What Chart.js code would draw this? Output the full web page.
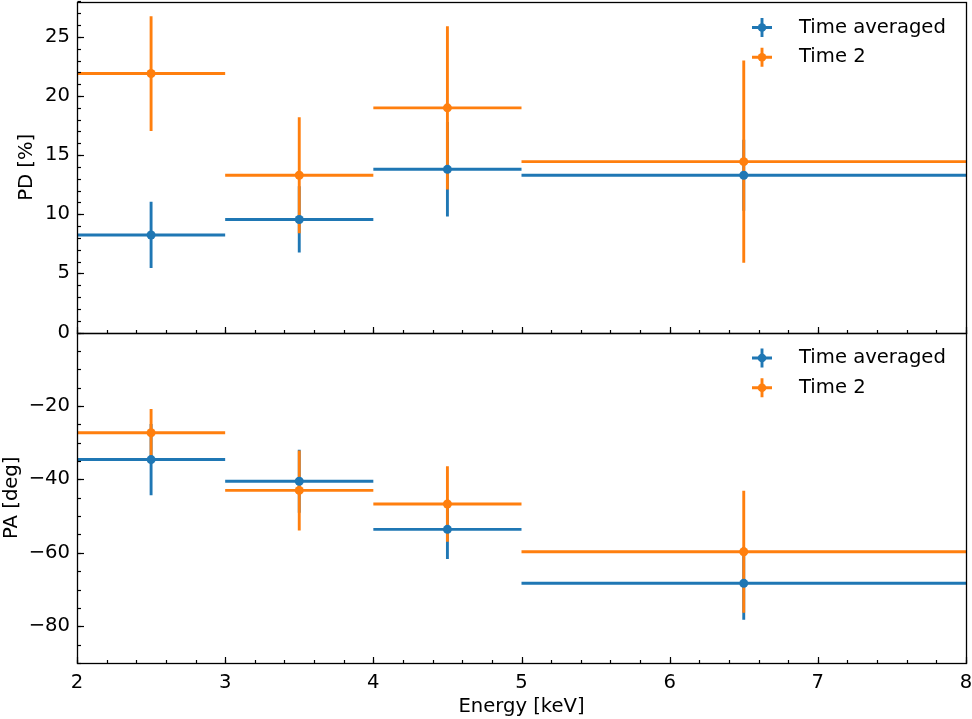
<!DOCTYPE html>
<html>
<head>
<meta charset="utf-8">
<script src="https://cdn.jsdelivr.net/npm/chart.js@4.4.0/dist/chart.umd.min.js"></script>
<style>
  html, body { margin: 0; padding: 0; background: #fff; }
</style>
</head>
<body>
<canvas id="grafico" width="972" height="719"></canvas>
<script>
// Bines de energía (keV)
const energia = [2.5, 3.5, 4.5, 6.5];
const energiaMin = [2, 3, 4, 5];
const energiaMax = [3, 4, 5, 8];

// Grado de polarización PD [%]
const pdPromedio = [8.25, 9.56, 13.8, 13.3];
const pdPromedioErr = [2.8, 2.8, 4.0, 3.0];
const pdTiempo2 = [21.9, 13.3, 19.0, 14.45];
const pdTiempo2Err = [4.85, 4.9, 6.9, 8.55];

// Ángulo de polarización PA [deg]
const paPromedio = [-34.6, -40.5, -53.6, -68.3];
const paPromedioErr = [9.7, 8.6, 8.1, 9.9];
const paTiempo2 = [-27.3, -43.0, -46.7, -59.7];
const paTiempo2Err = [6.5, 10.9, 10.3, 16.6];

const etiquetas = ['Time averaged', 'Time 2'];
const azul = '#1f77b4';
const naranja = '#ff7f0e';
const fuente = 'DejaVu Sans';
const tamFuente = 19.6;

function puntos(xs, ys) {
    return xs.map((x, i) => ({ x: x, y: ys[i] }));
}

// Barras de error (x: ancho del bin, y: error simétrico)
function dibujarErrores(chart, ys, errs, color, idEje) {
    const ctx = chart.ctx;
    const ex = chart.scales.x;
    const ey = chart.scales[idEje];
    ctx.save();
    ctx.beginPath();
    ctx.rect(ex.left, ey.top, ex.right - ex.left, ey.bottom - ey.top);
    ctx.clip();
    ctx.strokeStyle = color;
    ctx.lineWidth = 2.9;
    ys.forEach((v, i) => {
        const yp = ey.getPixelForValue(v);
        const xp = ex.getPixelForValue(energia[i]);
        ctx.beginPath();
        ctx.moveTo(ex.getPixelForValue(energiaMin[i]), yp);
        ctx.lineTo(ex.getPixelForValue(energiaMax[i]), yp);
        ctx.moveTo(xp, ey.getPixelForValue(v + errs[i]));
        ctx.lineTo(xp, ey.getPixelForValue(v - errs[i]));
        ctx.stroke();
    });
    ctx.restore();
}

// Marcas hacia dentro en un eje
function marcasY(ctx, eje, x0, desde, hasta, paso, largo) {
    const n = Math.round((hasta - desde) / paso);
    for (let k = 0; k <= n; k++) {
        const v = desde + k * paso;
        const y = Math.round(eje.getPixelForValue(v)) + 0.5;
        if (y < eje.top - 0.5 || y > eje.bottom + 0.5) continue;
        ctx.beginPath();
        ctx.moveTo(x0, y);
        ctx.lineTo(x0 + largo, y);
        ctx.stroke();
    }
}

function marcasX(ctx, eje, y0, desde, hasta, paso, largo) {
    const n = Math.round((hasta - desde) / paso);
    for (let k = 0; k <= n; k++) {
        const x = Math.round(eje.getPixelForValue(desde + k * paso)) + 0.5;
        ctx.beginPath();
        ctx.moveTo(x, y0);
        ctx.lineTo(x, y0 - largo);
        ctx.stroke();
    }
}

function leyenda(ctx, ejeX, ejeY) {
    const xm = 762;
    const xt = 799;
    [azul, naranja].forEach((color, i) => {
        const y = ejeY.top + 25.5 + i * 29.8;
        ctx.strokeStyle = color;
        ctx.fillStyle = color;
        ctx.lineWidth = 2.9;
        ctx.beginPath();
        ctx.moveTo(xm - 10, y);
        ctx.lineTo(xm + 10, y);
        ctx.moveTo(xm, y - 9.5);
        ctx.lineTo(xm, y + 9.5);
        ctx.stroke();
        ctx.beginPath();
        ctx.arc(xm, y, 4.3, 0, Math.PI * 2);
        ctx.fill();
        ctx.fillStyle = '#000';
        ctx.font = tamFuente + 'px "' + fuente + '"';
        ctx.textAlign = 'left';
        ctx.textBaseline = 'middle';
        ctx.fillText(etiquetas[i], xt, y);
    });
}

const pluginPaneles = {
    id: 'paneles',
    beforeDatasetsDraw(chart) {
        dibujarErrores(chart, pdPromedio, pdPromedioErr, azul, 'yPD');
        dibujarErrores(chart, pdTiempo2, pdTiempo2Err, naranja, 'yPD');
        dibujarErrores(chart, paPromedio, paPromedioErr, azul, 'yPA');
        dibujarErrores(chart, paTiempo2, paTiempo2Err, naranja, 'yPA');
    },
    afterDraw(chart) {
        const ctx = chart.ctx;
        const ex = chart.scales.x;
        const paneles = [
            { eje: chart.scales.yPD, min: 0, max: 27.95, mayor: 5, menor: 1 },
            { eje: chart.scales.yPA, min: -90, max: 0, mayor: 20, menor: 5 }
        ];
        ctx.save();
        ctx.strokeStyle = '#000';
        paneles.forEach(p => {
            ctx.lineWidth = 1.2;
            const x0 = Math.round(ex.left) + 0.5;
            marcasY(ctx, p.eje, x0, Math.ceil(p.min / p.menor) * p.menor, p.max, p.menor, 3.5);
            marcasY(ctx, p.eje, x0, Math.ceil(p.min / p.mayor) * p.mayor, p.max, p.mayor, 6.5);
            const yb = Math.round(p.eje.bottom) + 0.5;
            marcasX(ctx, ex, yb, 2, 8, 0.2, 3.5);
            marcasX(ctx, ex, yb, 2, 8, 1, 6.5);
            ctx.lineWidth = 1.3;
            ctx.strokeRect(x0, Math.round(p.eje.top) + 0.5, Math.round(ex.right) - Math.round(ex.left), Math.round(p.eje.bottom) - Math.round(p.eje.top));
        });
        ctx.restore();
        ctx.save();
        leyenda(ctx, ex, chart.scales.yPD);
        leyenda(ctx, ex, chart.scales.yPA);
        ctx.restore();
    }
};

const fuenteEjes = { family: fuente, size: tamFuente };

// Sin relleno automático: el área del gráfico queda fija
function ajustarY(s) {
    s.width = 77;
    s.paddingTop = 0;
    s.paddingBottom = 0;
}

const ctx = document.getElementById('grafico').getContext('2d');

const chart = new Chart(ctx, {
    type: 'scatter',
    data: {
        datasets: [
            { label: etiquetas[0], data: puntos(energia, pdPromedio), yAxisID: 'yPD', backgroundColor: azul, borderWidth: 0, pointRadius: 4.5, order: 2 },
            { label: etiquetas[1], data: puntos(energia, pdTiempo2), yAxisID: 'yPD', backgroundColor: naranja, borderWidth: 0, pointRadius: 4.5, order: 1 },
            { label: etiquetas[0], data: puntos(energia, paPromedio), yAxisID: 'yPA', backgroundColor: azul, borderWidth: 0, pointRadius: 4.5, order: 2 },
            { label: etiquetas[1], data: puntos(energia, paTiempo2), yAxisID: 'yPA', backgroundColor: naranja, borderWidth: 0, pointRadius: 4.5, order: 1 }
        ]
    },
    options: {
        responsive: false,
        animation: false,
        events: [],
        layout: { autoPadding: false, padding: { left: 0, right: 6, top: 2, bottom: 0 } },
        plugins: {
            legend: { display: false },
            tooltip: { enabled: false }
        },
        scales: {
            x: {
                type: 'linear',
                position: 'bottom',
                min: 2,
                max: 8,
                grid: { display: false, drawTicks: false },
                border: { display: false },
                ticks: { stepSize: 1, color: '#000', font: fuenteEjes, padding: 8, maxRotation: 0 },
                title: { display: true, text: 'Energy [keV]', color: '#000', font: fuenteEjes, padding: { top: 0, bottom: 0 } },
                afterFit(s) {
                    s.height = 56;
                    s.paddingLeft = 0;
                    s.paddingRight = 0;
                }
            },
            yPA: {
                type: 'linear',
                position: 'left',
                stack: 'paneles',
                stackWeight: 1,
                weight: 1,
                min: -90,
                max: 0,
                grid: { display: false, drawTicks: false },
                border: { display: false },
                ticks: {
                    stepSize: 20,
                    includeBounds: false,
                    color: '#000',
                    font: fuenteEjes,
                    padding: 7,
                    callback: v => (v === 0 ? '' : String(v).replace('-', '\u2212'))
                },
                title: { display: true, text: 'PA [deg]', color: '#000', font: fuenteEjes, padding: { top: 0, bottom: 0 } },
                afterFit: ajustarY
            },
            yPD: {
                type: 'linear',
                position: 'left',
                stack: 'paneles',
                stackWeight: 1,
                weight: 2,
                min: 0,
                max: 27.95,
                grid: { display: false, drawTicks: false },
                border: { display: false },
                ticks: { stepSize: 5, includeBounds: false, color: '#000', font: fuenteEjes, padding: 7 },
                title: { display: true, text: 'PD [%]', color: '#000', font: fuenteEjes, padding: { top: 15, bottom: 0 } },
                afterFit: ajustarY
            }
        }
    },
    plugins: [pluginPaneles]
});
</script>
</body>
</html>
